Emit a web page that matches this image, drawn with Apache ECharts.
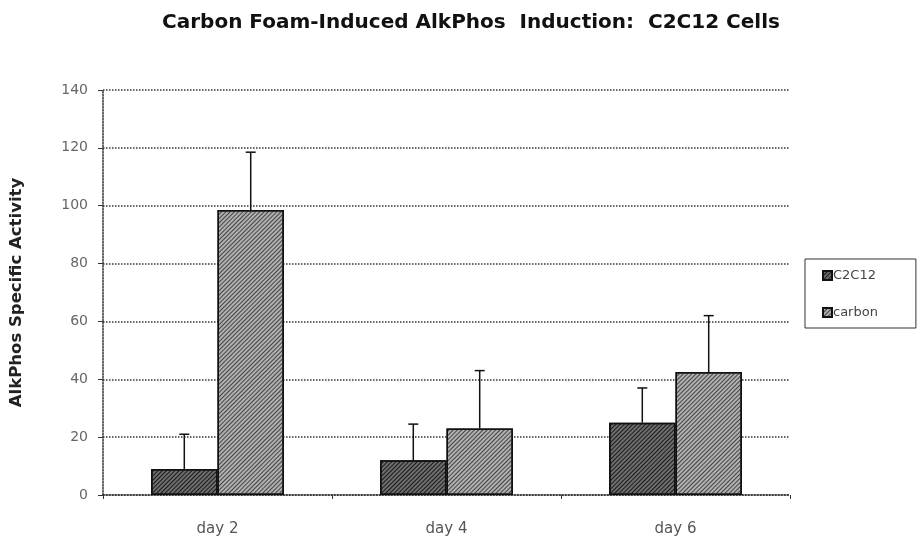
<!DOCTYPE html>
<html>
<head>
<meta charset="utf-8">
<script src="https://cdn.jsdelivr.net/npm/echarts@6/dist/echarts.min.js"></script>
<style>
html, body { margin: 0; padding: 0; background: #fff; }
#chart { width: 920px; height: 548px; }
</style>
</head>
<body>
<div id="chart"></div>
<script>
// data
var categories = ['day 2', 'day 4', 'day 6'];
var c2c12 = [9, 12, 25];
var carbon = [98.5, 23, 42.5];
// error (upper arm only)
var c2c12Err = [12, 12.5, 12];
var carbonErr = [20, 20, 19.5];
var yTicks = [0, 20, 40, 60, 80, 100, 120, 140];

var BAR_PCT = 0.29;
var font = 'DejaVu Sans, Verdana, sans-serif';

// draw the error bar of one series (side -1 = left bar, +1 = right bar)
function errItem(side, vals, errs) {
	return function(params, api) {
		var i = api.value(0);
		var center = api.coord([i, 0]);
		var bw = api.size([1, 0])[0] * BAR_PCT;
		var x = center[0] + side * bw / 2;
		var top = api.coord([i, vals[i]])[1];
		var hi = api.coord([i, vals[i] + errs[i]])[1];
		var st = { stroke: '#111', lineWidth: 1.5 };
		return {
			type: 'group',
			children: [
				{ type: 'line', shape: { x1: x, y1: top, x2: x, y2: hi }, style: st },
				{ type: 'line', shape: { x1: x - 5, y1: hi, x2: x + 5, y2: hi }, style: st }
			]
		};
	};
}

var hatch = function(c) {
	return {
		symbol: 'rect',
		symbolSize: 1,
		dashArrayX: [1, 0],
		dashArrayY: [1, 2],
		rotation: -Math.PI / 4,
		color: c
	};
};

var myChart = echarts.init(document.getElementById('chart'));
var option = {
	animation: false,
	title: {
		text: 'Carbon Foam-Induced AlkPhos  Induction:  C2C12 Cells',
		left: 466,
		top: 8,
		textAlign: 'center',
		textStyle: { fontFamily: font, fontSize: 20, fontWeight: 'bold', color: '#111' }
	},
	legend: {
		orient: 'vertical',
		left: 805,
		top: 259,
		padding: [10, 38, 9, 17],
		itemGap: 24,
		itemWidth: 9,
		itemHeight: 9,
		icon: 'rect',
		borderColor: '#333',
		borderWidth: 1,
		textStyle: { fontFamily: font, fontSize: 13, color: '#444', padding: [0, 0, 0, -4] },
		data: ['C2C12', 'carbon']
	},
	grid: { left: 103, right: 130, top: 90, bottom: 53, outerBoundsMode: 'none', containLabel: false },
	xAxis: {
		type: 'category',
		data: categories,
		axisLine: { lineStyle: { color: '#333', type: 'dotted', width: 1.5 } },
		axisTick: { show: true, length: 4, lineStyle: { color: '#333' } },
		axisLabel: { margin: 27, fontFamily: font, fontSize: 15, color: '#555' }
	},
	yAxis: {
		type: 'value',
		min: 0,
		max: 140,
		interval: 20,
		name: 'AlkPhos Specific Activity',
		nameLocation: 'middle',
		nameRotate: 90,
		nameGap: 78,
		nameTextStyle: { fontFamily: font, fontSize: 16.5, fontWeight: 'bold', color: '#222' },
		axisLine: { show: true, lineStyle: { color: '#333', type: 'dotted', width: 1.5 } },
		axisTick: { show: true, length: 5, lineStyle: { color: '#333' } },
		axisLabel: {
			margin: 15, fontFamily: font, fontSize: 14, color: '#666',
			formatter: function(v) { return yTicks.indexOf(v) >= 0 ? String(v) : ''; }
		},
		splitLine: { lineStyle: { color: '#333', type: 'dotted', width: 1.5 } }
	},
	series: [
		{
			name: 'C2C12',
			type: 'bar',
			data: c2c12,
			barWidth: (BAR_PCT * 100) + '%',
			barGap: '0%',
			itemStyle: { color: '#6e6e6e', borderColor: '#111', borderWidth: 1.5, decal: hatch('#1a1a1a') }
		},
		{
			name: 'carbon',
			type: 'bar',
			data: carbon,
			barWidth: (BAR_PCT * 100) + '%',
			barGap: '0%',
			itemStyle: { color: '#b0b0b0', borderColor: '#111', borderWidth: 1.5, decal: hatch('#444') }
		},
		{
			type: 'custom',
			data: [0, 1, 2],
			renderItem: errItem(-1, c2c12, c2c12Err),
			z: 5
		},
		{
			type: 'custom',
			data: [0, 1, 2],
			renderItem: errItem(1, carbon, carbonErr),
			z: 5
		}
	]
};
myChart.setOption(option);
</script>
</body>
</html>
